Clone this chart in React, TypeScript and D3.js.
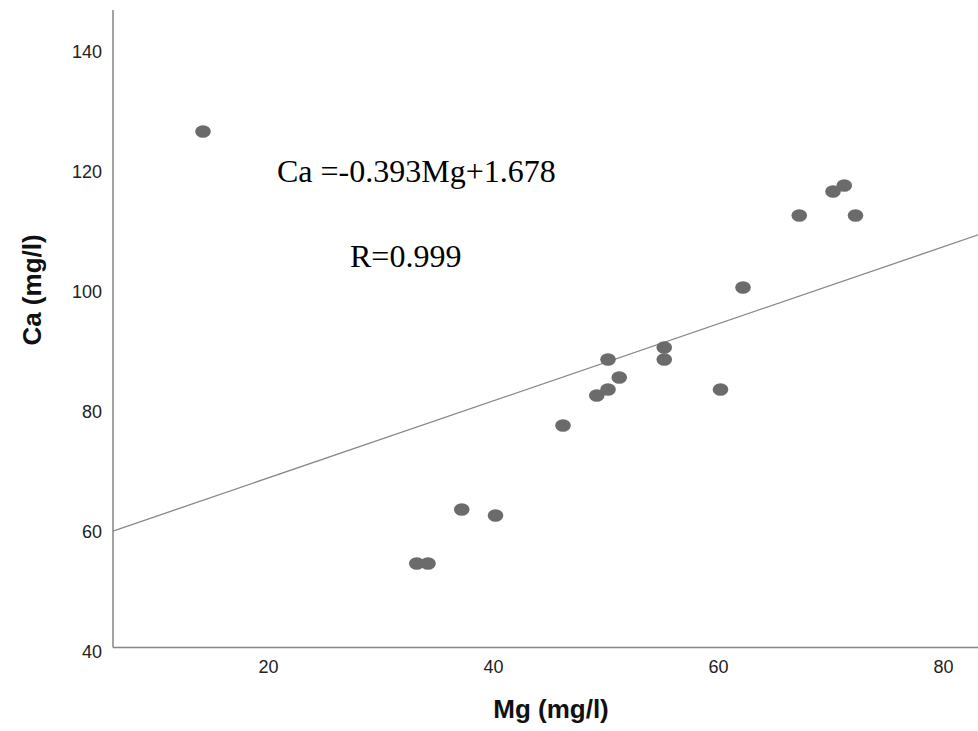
// App.tsx
import * as d3 from "d3";
import React from "react";

// Mg / Ca pairs
const mgValues = [14, 33, 34, 37, 40, 46, 49, 50, 50, 51, 55, 55, 60, 62, 67, 70, 71, 72];
const caValues = [126, 54, 54, 63, 62, 77, 82, 83, 88, 85, 88, 90, 83, 100, 112, 116, 117, 112];
const xTicks = [20, 40, 60, 80];
const yTicks = [40, 60, 80, 100, 120, 140];
// fit line drawn on the chart
const fitIntercept = 55.55;
const fitSlope = 0.642;
const equationText = "Ca =-0.393Mg+1.678";
const rText = "R=0.999";

const width = 978;
const height = 731;

export default function App() {
  const x = d3.scaleLinear().domain([6, 83]).range([113, 979.25]);
  const y = d3.scaleLinear().domain([40, 146.25]).range([647.5, 10]);

  const points = mgValues.map((mg, i) => ({ mg, ca: caValues[i] }));
  const fitLine = d3
    .line<number>()
    .x((d) => x(d))
    .y((d) => y(fitIntercept + fitSlope * d));

  const tickFont = "'Liberation Sans', Arial, sans-serif";

  return (
    <svg
      width={width}
      height={height}
      style={{ position: "absolute", left: 0, top: 0, background: "#fff" }}
    >
      {/* axes */}
      <line x1={x(6)} x2={x(6)} y1={y(146.25)} y2={y(40)} stroke="#858585" strokeWidth={1.5} />
      <line x1={x(6)} x2={width} y1={y(40)} y2={y(40)} stroke="#858585" strokeWidth={1.5} />

      {yTicks.map((t) => (
        <text
          key={"y" + t}
          x={102}
          y={y(t) + 4}
          textAnchor="end"
          dominantBaseline="central"
          fontFamily={tickFont}
          fontSize={18}
          fill="#222"
        >
          {t}
        </text>
      ))}
      {xTicks.map((t) => (
        <text
          key={"x" + t}
          x={x(t) - 2}
          y={667}
          textAnchor="middle"
          dominantBaseline="central"
          fontFamily={tickFont}
          fontSize={18}
          fill="#222"
        >
          {t}
        </text>
      ))}

      <text
        x={551}
        y={709}
        textAnchor="middle"
        dominantBaseline="central"
        fontFamily={tickFont}
        fontWeight="bold"
        fontSize={26}
        fill="#111"
      >
        Mg (mg/l)
      </text>
      <text
        transform="translate(32,290) rotate(-90)"
        textAnchor="middle"
        dominantBaseline="central"
        fontFamily={tickFont}
        fontWeight="bold"
        fontSize={26}
        fill="#111"
      >
        Ca (mg/l)
      </text>

      {/* regression line */}
      <path d={fitLine([6, 83]) || ""} fill="none" stroke="#878787" strokeWidth={1.3} />

      {points.map((p, i) => (
        <ellipse key={i} cx={x(p.mg)} cy={y(p.ca)} rx={7.8} ry={6.3} fill="#6b6b6b" />
      ))}

      <text x={277} y={182} fontFamily="'Liberation Serif', 'Times New Roman', serif" fontSize={32} fill="#000">
        {equationText}
      </text>
      <text x={350} y={267} fontFamily="'Liberation Serif', 'Times New Roman', serif" fontSize={32} fill="#000">
        {rText}
      </text>
    </svg>
  );
}
